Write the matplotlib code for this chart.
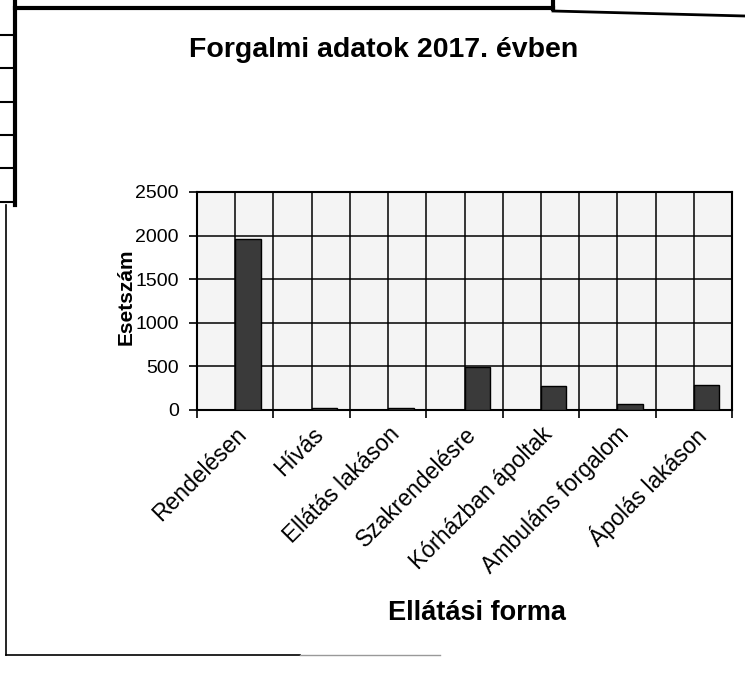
import numpy as np
import matplotlib
matplotlib.use('Agg')
import matplotlib.pyplot as plt
from matplotlib.lines import Line2D

plt.rcParams['font.family'] = ['Liberation Sans', 'DejaVu Sans']

# # Forgalmi adatok
categories = ['Rendelésen', 'Hívás', 'Ellátás lakáson', 'Szakrendelésre',
              'Kórházban ápoltak', 'Ambuláns forgalom', 'Ápolás lakáson']
values_2017 = [1960, 25, 20, 495, 275, 70, 290]
y_ticks = [0, 500, 1000, 1500, 2000, 2500]

W, H = 745, 675
fig = plt.figure(figsize=(W / 100, H / 100), dpi=100)
fig.patch.set_facecolor('white')

ax = fig.add_axes([197 / W, 1 - 410 / H, (732 - 197) / W, (410 - 192) / H])
ax.set_facecolor('#f4f4f4')

x = np.arange(len(categories))
# the empty first series sits left of centre, 2017 to the right
ax.bar(x, values_2017, width=1 / 3, align='edge', color='#3a3a3a',
       edgecolor='black', linewidth=1, zorder=3)

ax.set_xlim(-0.5, len(categories) - 0.5)
ax.set_ylim(0, 2500)
ax.set_yticks(y_ticks)
ax.set_yticklabels([str(v) for v in y_ticks], fontsize=14)

ax.set_xticks(np.arange(-0.5, len(categories)), labels=[])
ax.set_xticks(x, labels=categories, minor=True)
ax.tick_params(axis='x', which='major', direction='out', length=6, width=1.2)
ax.tick_params(axis='x', which='minor', length=0, pad=9, labelsize=16.5)
ax.tick_params(axis='y', direction='out', length=6, width=1.2, pad=7)
for lbl in ax.get_xticklabels(minor=True):
    lbl.set_rotation(45)
    lbl.set_ha('right')
    lbl.set_va('top')
    lbl.set_rotation_mode('anchor')

ax.grid(which='both', axis='x', color='black', linewidth=1.1, zorder=1)
ax.grid(which='major', axis='y', color='black', linewidth=1.1, zorder=1)
ax.set_axisbelow(True)
for s in ax.spines.values():
    s.set_linewidth(1.5)

fig.text(384 / W, 1 - 50 / H, 'Forgalmi adatok 2017. évben', fontsize=20.5,
         fontweight='bold', ha='center', va='center')
fig.text(477 / W, 1 - 613 / H, 'Ellátási forma', fontsize=19.5,
         fontweight='bold', ha='center', va='center')
fig.text(126 / W, 1 - 297 / H, 'Esetszám', fontsize=15, fontweight='bold',
         ha='center', va='center', rotation=90)

# scanned page frame and table edge
def seg(x0, y0, x1, y1, lw=1.5, color='black'):
    fig.add_artist(Line2D([x0 / W, x1 / W], [1 - y0 / H, 1 - y1 / H],
                          transform=fig.transFigure, color=color, linewidth=lw))

seg(15, 0, 15, 205, lw=3)
for yy in [35, 68, 102, 135, 168, 202]:
    seg(0, yy, 15, yy, lw=1.5)
seg(15, 8, 553, 8, lw=3)
seg(553, 0, 553, 9, lw=3)
seg(553, 11, 745, 16, lw=2)
seg(6, 205, 6, 655, lw=1.2)
seg(6, 655, 300, 655, lw=1.2)
seg(300, 655, 440, 655, lw=1, color='#999999')

plt.savefig('out.png', dpi=100)
plt.close()
